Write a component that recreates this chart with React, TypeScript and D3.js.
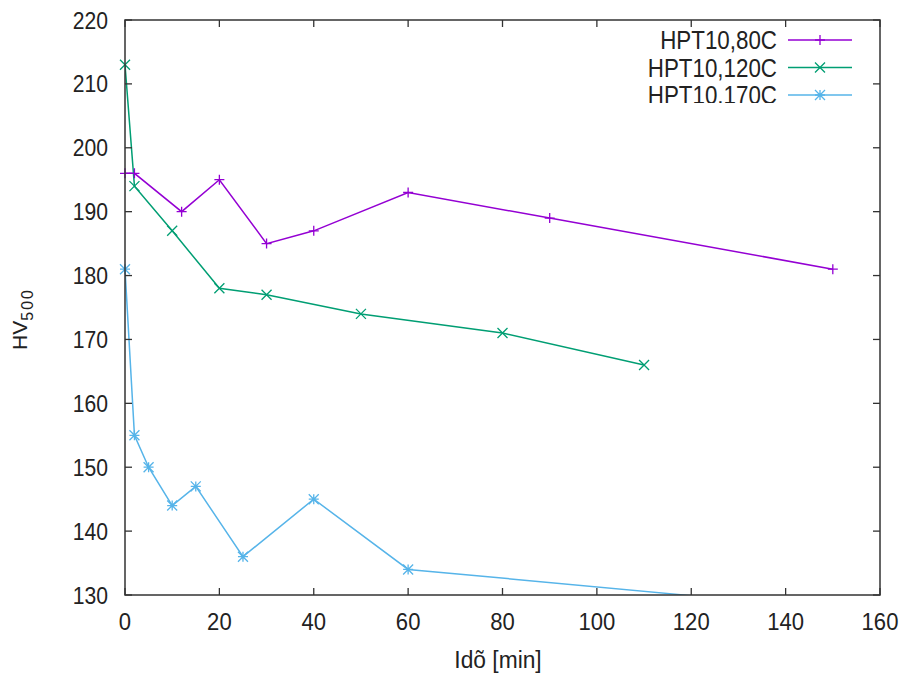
import React from 'react';
import * as d3 from 'd3';

const width = 903;
const height = 676;

// x ticks (min) and y ticks (HV)
const xTicks = [0, 20, 40, 60, 80, 100, 120, 140, 160];
const yTicks = [130, 140, 150, 160, 170, 180, 190, 200, 210, 220];

// HPT10, 80C
const time80 = [0, 2, 12, 20, 30, 40, 60, 90, 150];
const hv80 = [196, 196, 190, 195, 185, 187, 193, 189, 181];
// HPT10, 120C
const time120 = [0, 2, 10, 20, 30, 50, 80, 110];
const hv120 = [213, 194, 187, 178, 177, 174, 171, 166];
// HPT10, 170C
const time170 = [0, 2, 5, 10, 15, 25, 40, 60, 120];
const hv170 = [181, 155, 150, 144, 147, 136, 145, 134, 129.9];

const seriesNames = ['HPT10,80C', 'HPT10,120C', 'HPT10,170C'];
const colors = ['#9400d3', '#009e73', '#56b4e9'];
const markerTypes = ['plus', 'cross', 'star'];

const FONT = 'Liberation Sans, Arial, sans-serif';

function markerPath(type: string, r: number) {
  const plus = `M${-r},0H${r}M0,${-r}V${r}`;
  const cross = `M${-r},${-r}L${r},${r}M${-r},${r}L${r},${-r}`;
  if (type === 'plus') return plus;
  if (type === 'cross') return cross;
  return plus + cross;
}

export default function App() {
  const x = d3.scaleLinear().domain([0, 160]).range([125, 880]);
  const y = d3.scaleLinear().domain([130, 220]).range([595, 20]);

  const series = [
    time80.map((t, i) => ({ t, v: hv80[i] })),
    time120.map((t, i) => ({ t, v: hv120[i] })),
    time170.map((t, i) => ({ t, v: hv170[i] })),
  ];

  const line = d3
    .line<{ t: number; v: number }>()
    .x((d) => x(d.t))
    .y((d) => y(d.v));

  const [x0, x1] = x.range();
  const [y0, y1] = y.range();
  const tick = 7;

  return (
    <svg
      width={width}
      height={height}
      style={{ position: 'absolute', left: 0, top: 0, background: '#fff' }}
    >
      <defs>
        <clipPath id="plotClip">
          <rect x={x0} y={y1} width={x1 - x0} height={y0 - y1} />
        </clipPath>
        <clipPath id="legendClip">
          <rect x={600} y={0} width={300} height={103} />
        </clipPath>
      </defs>

      {/* series lines */}
      <g clipPath="url(#plotClip)" fill="none" strokeWidth={1.5}>
        {series.map((s, i) => (
          <path key={i} d={line(s) || ''} stroke={colors[i]} />
        ))}
      </g>

      {/* markers */}
      {series.map((s, i) => (
        <g key={i} stroke={colors[i]} strokeWidth={1.3} fill="none">
          {s
            .filter((d) => d.v >= 130 && d.v <= 220)
            .map((d, j) => (
              <path
                key={j}
                d={markerPath(markerTypes[i], 5)}
                transform={`translate(${x(d.t)},${y(d.v)})`}
              />
            ))}
        </g>
      ))}

      {/* border */}
      <rect
        x={x0}
        y={y1}
        width={x1 - x0}
        height={y0 - y1}
        fill="none"
        stroke="#333"
        strokeWidth={1.5}
      />

      {/* x ticks */}
      <g stroke="#333" strokeWidth={1.3}>
        {xTicks.map((t) => (
          <g key={t}>
            <line x1={x(t)} x2={x(t)} y1={y0} y2={y0 - tick} />
            <line x1={x(t)} x2={x(t)} y1={y1} y2={y1 + tick} />
          </g>
        ))}
        {yTicks.map((t) => (
          <g key={t}>
            <line x1={x0} x2={x0 + tick} y1={y(t)} y2={y(t)} />
            <line x1={x1} x2={x1 - tick} y1={y(t)} y2={y(t)} />
          </g>
        ))}
      </g>

      {/* x tick labels */}
      <g fontFamily={FONT} fontSize={24} fill="#222" textAnchor="middle">
        {xTicks.map((t) => (
          <text key={t} transform={`translate(${x(t)},${y0 + 35}) scale(0.92,1)`}>
            {t}
          </text>
        ))}
      </g>

      {/* y tick labels */}
      <g fontFamily={FONT} fontSize={24} fill="#222" textAnchor="end">
        {yTicks.map((t) => (
          <text key={t} transform={`translate(108,${y(t) + 8.5}) scale(0.88,1)`}>
            {t}
          </text>
        ))}
      </g>

      {/* axis titles */}
      <text
        fontFamily={FONT}
        fontSize={24}
        fill="#222"
        textAnchor="middle"
        transform={`translate(498,668) scale(0.95,1)`}
      >
        Idõ [min]
      </text>
      <text
        fontFamily={FONT}
        fontSize={21}
        fill="#222"
        textAnchor="middle"
        transform="translate(27,319) rotate(-90)"
      >
        HV
        <tspan fontSize={16} dy={6} letterSpacing={2}>
          500
        </tspan>
      </text>

      {/* legend */}
      <g fontFamily={FONT} fontSize={26} fill="#222" textAnchor="end" clipPath="url(#legendClip)">
        {seriesNames.map((n, i) => (
          <text key={n} transform={`translate(777,${49 + i * 27.5}) scale(0.86,1)`}>
            {n}
          </text>
        ))}
      </g>
      {seriesNames.map((n, i) => {
        const ly = 40 + i * 27.5;
        return (
          <g key={n} stroke={colors[i]} fill="none">
            <line x1={788} x2={852} y1={ly} y2={ly} strokeWidth={1.5} />
            <path
              d={markerPath(markerTypes[i], 5)}
              transform={`translate(820,${ly})`}
              strokeWidth={1.3}
            />
          </g>
        );
      })}
    </svg>
  );
}
